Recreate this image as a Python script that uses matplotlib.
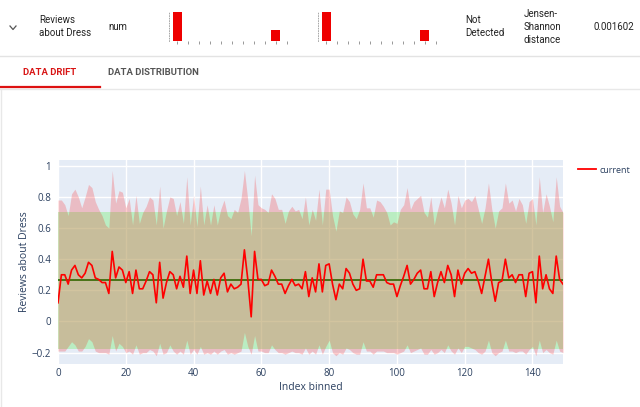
import matplotlib
matplotlib.use('Agg')
import matplotlib.pyplot as plt
from matplotlib.lines import Line2D
import numpy as np

W, H = 640, 407

# ---- data ----
current = [0.12, 0.30, 0.30, 0.24, 0.33, 0.36, 0.30, 0.28, 0.31, 0.38,
           0.36, 0.28, 0.27, 0.25, 0.25, 0.18, 0.45, 0.28, 0.35, 0.33,
           0.25, 0.32, 0.18, 0.33, 0.21, 0.21, 0.26, 0.32, 0.30, 0.12,
           0.38, 0.15, 0.25, 0.32, 0.30, 0.21, 0.29, 0.22, 0.42, 0.18,
           0.33, 0.18, 0.39, 0.17, 0.26, 0.18, 0.27, 0.17, 0.28, 0.31,
           0.19, 0.24, 0.21, 0.22, 0.24, 0.46, 0.27, 0.03, 0.45, 0.27,
           0.27, 0.23, 0.24, 0.33, 0.29, 0.24, 0.24, 0.18, 0.23, 0.27,
           0.23, 0.24, 0.21, 0.32, 0.16, 0.28, 0.19, 0.37, 0.19, 0.36,
           0.37, 0.24, 0.14, 0.24, 0.21, 0.34, 0.31, 0.24, 0.20, 0.21,
           0.40, 0.26, 0.26, 0.22, 0.30, 0.30, 0.30, 0.25, 0.24, 0.24,
           0.16, 0.23, 0.29, 0.36, 0.24, 0.27, 0.31, 0.33, 0.21, 0.21,
           0.32, 0.16, 0.25, 0.32, 0.25, 0.36, 0.30, 0.16, 0.33, 0.24,
           0.31, 0.34, 0.31, 0.32, 0.26, 0.18, 0.29, 0.40, 0.25, 0.13,
           0.25, 0.26, 0.40, 0.28, 0.30, 0.25, 0.30, 0.30, 0.16, 0.31,
           0.32, 0.12, 0.42, 0.21, 0.30, 0.21, 0.18, 0.42, 0.27, 0.24]

cur_upper = [0.78, 0.78, 0.75, 0.68, 0.82, 0.85, 0.80, 0.73, 0.80, 0.88,
             0.86, 0.77, 0.72, 0.68, 0.62, 0.60, 0.97, 0.76, 0.84, 0.83,
             0.73, 0.79, 0.62, 0.81, 0.63, 0.70, 0.74, 0.80, 0.78, 0.62,
             0.87, 0.60, 0.71, 0.80, 0.79, 0.68, 0.77, 0.63, 0.93, 0.62,
             0.81, 0.61, 0.87, 0.62, 0.75, 0.62, 0.75, 0.62, 0.72, 0.78,
             0.68, 0.66, 0.72, 0.70, 0.79, 0.97, 0.78, 0.55, 0.94, 0.75,
             0.73, 0.72, 0.70, 0.82, 0.79, 0.72, 0.72, 0.63, 0.71, 0.74,
             0.71, 0.72, 0.66, 0.80, 0.62, 0.72, 0.65, 0.85, 0.62, 0.85,
             0.85, 0.68, 0.58, 0.71, 0.70, 0.80, 0.77, 0.69, 0.66, 0.72,
             0.89, 0.73, 0.73, 0.67, 0.78, 0.77, 0.74, 0.70, 0.62, 0.64,
             0.63, 0.72, 0.75, 0.86, 0.72, 0.77, 0.79, 0.81, 0.70, 0.67,
             0.80, 0.62, 0.72, 0.80, 0.73, 0.85, 0.76, 0.62, 0.81, 0.73,
             0.78, 0.79, 0.77, 0.81, 0.72, 0.63, 0.73, 0.89, 0.72, 0.60,
             0.71, 0.73, 0.89, 0.76, 0.78, 0.71, 0.79, 0.75, 0.63, 0.77,
             0.79, 0.62, 0.93, 0.70, 0.82, 0.74, 0.64, 0.93, 0.74, 0.70]

cur_lower = [-0.19, -0.19, -0.19, -0.16, -0.13, -0.15, -0.19, -0.19, -0.16, -0.11,
             -0.13, -0.19, -0.20, -0.20, -0.20, -0.21, -0.09, -0.19, -0.14, -0.16,
             -0.20, -0.19, -0.21, -0.15, -0.21, -0.20, -0.20, -0.18, -0.19, -0.22,
             -0.14, -0.21, -0.20, -0.15, -0.19, -0.21, -0.19, -0.21, -0.12, -0.21,
             -0.18, -0.21, -0.16, -0.21, -0.20, -0.21, -0.19, -0.21, -0.19, -0.18,
             -0.21, -0.20, -0.21, -0.20, -0.19, -0.07, -0.16, -0.21, -0.09, -0.19,
             -0.19, -0.20, -0.20, -0.15, -0.18, -0.20, -0.20, -0.21, -0.20, -0.19,
             -0.20, -0.20, -0.21, -0.17, -0.21, -0.19, -0.21, -0.15, -0.21, -0.16,
             -0.12, -0.20, -0.22, -0.20, -0.21, -0.17, -0.18, -0.20, -0.21, -0.21,
             -0.13, -0.19, -0.19, -0.21, -0.19, -0.19, -0.19, -0.20, -0.20, -0.20,
             -0.21, -0.20, -0.19, -0.15, -0.20, -0.19, -0.18, -0.17, -0.21, -0.21,
             -0.18, -0.21, -0.20, -0.18, -0.20, -0.15, -0.19, -0.21, -0.17, -0.20,
             -0.16, -0.16, -0.17, -0.18, -0.20, -0.21, -0.19, -0.12, -0.20, -0.22,
             -0.20, -0.19, -0.12, -0.19, -0.19, -0.20, -0.19, -0.19, -0.21, -0.18,
             -0.16, -0.22, -0.12, -0.20, -0.18, -0.20, -0.21, -0.12, -0.19, -0.20]

ref_mean = 0.265
ref_std = 0.44

# mini histograms in the header row (reference, current)
hist_bins = list(range(10))
ref_counts = [73, 0, 0, 0, 0, 0, 0, 0, 0, 27]
cur_counts = [73, 0, 0, 0, 0, 0, 0, 0, 0, 27]

y_ticks = [-0.2, 0, 0.2, 0.4, 0.6, 0.8, 1]
y_ticklabels = ['\u22120.2', '0', '0.2', '0.4', '0.6', '0.8', '1']
x_ticks = [0, 20, 40, 60, 80, 100, 120, 140]


def fx(px):
    return px / W


def fy(py):
    return 1 - py / H


fig = plt.figure(figsize=(6.4, 4.07), dpi=100)
fig.patch.set_facecolor('white')

hdr_font = 'Roboto'
txt_col = '#222222'

# ---- header row ----
fig.add_artist(Line2D([fx(10), fx(13), fx(16)], [fy(26), fy(29.5), fy(26)],
                      color='#555555', lw=0.9))
fig.text(fx(39), fy(20), 'Reviews', fontsize=7, family=hdr_font, color=txt_col, va='center')
fig.text(fx(39), fy(33), 'about Dress', fontsize=7, family=hdr_font, color=txt_col, va='center')
fig.text(fx(108), fy(27), 'num', fontsize=7, family=hdr_font, color=txt_col, va='center')
fig.text(fx(465), fy(20), 'Not', fontsize=7, family=hdr_font, color=txt_col, va='center')
fig.text(fx(465), fy(33), 'Detected', fontsize=7, family=hdr_font, color=txt_col, va='center')
fig.text(fx(524), fy(14), 'Jensen-', fontsize=7, family=hdr_font, color=txt_col, va='center')
fig.text(fx(524), fy(27), 'Shannon', fontsize=7, family=hdr_font, color=txt_col, va='center')
fig.text(fx(524), fy(40), 'distance', fontsize=7, family=hdr_font, color=txt_col, va='center')
fig.text(fx(593), fy(27), '0.001602', fontsize=7, family=hdr_font, color=txt_col, va='center')

for left, counts in [(169, ref_counts), (318, cur_counts)]:
    hax = fig.add_axes([fx(left), fy(41), fx(121), 30 / H])
    hax.bar(hist_bins, counts, width=0.85, color='#ee0000')
    hax.set_xlim(-0.75, 10.3)
    hax.set_ylim(0, 76)
    for s in ['top', 'right', 'bottom']:
        hax.spines[s].set_visible(False)
    hax.spines['left'].set_linestyle((0, (1, 2)))
    hax.spines['left'].set_color('#999999')
    hax.spines['left'].set_linewidth(0.6)
    hax.set_xticks(range(11))
    hax.set_xticklabels([])
    hax.set_yticks([])
    hax.tick_params(axis='x', length=2, width=0.6, color='#888888')
    hax.patch.set_alpha(0)

# separators and tabs
fig.add_artist(Line2D([0, 1], [fy(56), fy(56)], color='#e3e3e3', lw=1))
fig.add_artist(Line2D([0, 1], [fy(89), fy(89)], color='#e8e8e8', lw=1))
fig.add_artist(Line2D([0, fx(100)], [fy(86.5), fy(86.5)], color='#dd1111', lw=1.6))
fig.add_artist(Line2D([fx(0.5), fx(0.5)], [fy(89), 0], color='#e8e8e8', lw=1))
fig.text(fx(23), fy(72.5), 'DATA DRIFT', fontsize=6.8, family=hdr_font, weight='bold',
         color='#d81414', va='center')
fig.text(fx(108), fy(72.5), 'DATA DISTRIBUTION', fontsize=6.8, family=hdr_font, weight='bold',
         color='#555555', va='center')

# ---- main drift plot ----
ax = fig.add_axes([fx(58), fy(364), fx(505), 204 / H])
ax.set_facecolor('#E5ECF6')
x = np.arange(len(current))

ax.axhspan(ref_mean - ref_std, ref_mean + ref_std, color='#90EE90', alpha=0.5, lw=0, zorder=1)
ax.axhline(ref_mean, color='#008000', lw=1.2, zorder=2)
ax.fill_between(x, cur_lower, cur_upper, color='#ff0000', alpha=0.2, lw=0, zorder=3)
ax.plot(x, current, color='#ff0000', lw=1.2, zorder=4, label='current')

ax.set_xlim(0, len(current) - 1)
ax.set_ylim(-0.273, 1.037)
ax.set_yticks(y_ticks)
ax.set_yticklabels(y_ticklabels)
ax.set_xticks(x_ticks)
ax.grid(True, color='white', lw=1, zorder=0)
ax.set_axisbelow(True)
for s in ax.spines.values():
    s.set_visible(False)
ax.tick_params(length=0, labelsize=7, labelcolor='#2a3f5f')
ax.tick_params(axis='y', pad=5)
ax.tick_params(axis='x', pad=3)
for lbl in ax.get_xticklabels() + ax.get_yticklabels():
    lbl.set_family('Open Sans')
ax.set_xlabel('Index binned', fontsize=7.5, family='Open Sans', color='#2a3f5f', labelpad=2)
ax.set_ylabel('Reviews about Dress', fontsize=7.5, family='Open Sans', color='#2a3f5f', labelpad=1)

leg = fig.legend(handles=[Line2D([], [], color='#ff0000', lw=1.3)], labels=['current'],
                 loc='upper left', bbox_to_anchor=(fx(574), fy(162)), frameon=False,
                 prop={'family': 'Open Sans', 'size': 6.5}, handlelength=2.0,
                 handletextpad=0.4, borderaxespad=0)
for t in leg.get_texts():
    t.set_color('#2a3f5f')

fig.savefig('out.png', dpi=100, facecolor='white')
